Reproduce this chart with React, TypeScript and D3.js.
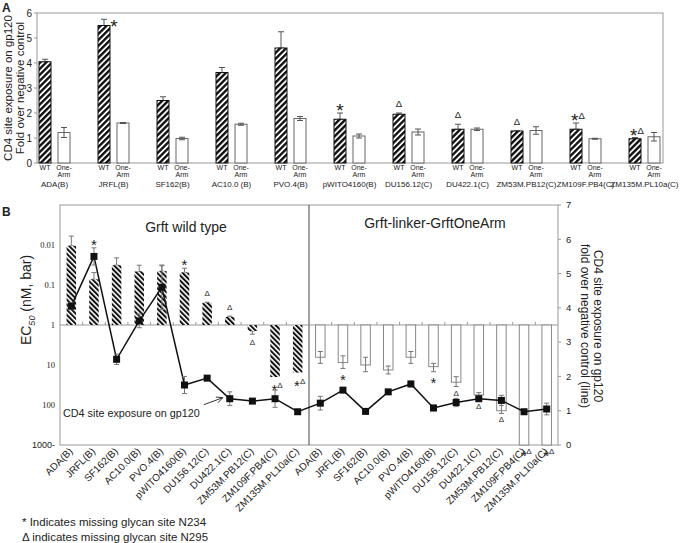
import * as d3 from 'd3';

const strains = [
  'ADA(B)', 'JRFL(B)', 'SF162(B)', 'AC10.0(B)', 'PVO.4(B)', 'pWITO4160(B)',
  'DU156.12(C)', 'DU422.1(C)', 'ZM53M.PB12(C)', 'ZM109F.PB4(C)', 'ZM135M.PL10a(C)',
];
const strainLabelsA = [
  'ADA(B)', 'JRFL(B)', 'SF162(B)', 'AC10.0 (B)', 'PVO.4(B)', 'pWITO4160(B)',
  'DU156.12(C)', 'DU422.1(C)', 'ZM53M.PB12(C)', 'ZM109F.PB4(C)', 'ZM135M.PL10a(C)',
];
// * = missing N234, Δ = missing N295
const glycanMarks = ['', '*', '', '', '', '*', 'Δ', 'Δ', 'Δ', '*Δ', '*Δ'];

// CD4 site exposure, fold over negative control
const wtExposure = [4.05, 5.5, 2.5, 3.62, 4.6, 1.75, 1.95, 1.35, 1.28, 1.35, 0.97];
const wtExposureErr = [0.1, 0.25, 0.15, 0.2, 0.65, 0.25, 0.05, 0.2, 0, 0.25, 0.05];
const oaExposure = [1.22, 1.6, 0.98, 1.55, 1.78, 1.08, 1.24, 1.35, 1.3, 0.97, 1.05];
const oaExposureErr = [0.2, 0.02, 0.05, 0.04, 0.08, 0.08, 0.12, 0.05, 0.15, 0.02, 0.17];

// EC50 (nM)
const wtEC50 = [0.0105, 0.072, 0.032, 0.046, 0.045, 0.049, 0.28, 0.63, 1.41, 20, 15.5];
const wtEC50Tip = [0.006, 0.049, 0.021, 0.032, 0.033, 0.038, 0.27, 0.6, 1.7, 20, 15.5];
const oaEC50 = [6.4, 8.7, 10, 13.3, 6.4, 11, 27, 56, 139, 1000, 1000];
const oaEC50Lo = [4.6, 5.9, 6.4, 10.6, 4.6, 9.1, 19.6, 49, 68, 1000, 1000];
const oaEC50Hi = [9.1, 12.2, 14.7, 16.8, 9.1, 14.7, 34.5, 62, 163, 1000, 1000];

const ticksA = [0, 1, 2, 3, 4, 5, 6];
const ticksRight = [0, 1, 2, 3, 4, 5, 6, 7];
const ticksEC = [0.01, 0.1, 1, 10, 100, 1000];
const ticksECLabels = ['0.01', '0.1', '1', '10', '100', '1000-'];

const SANS = "'Liberation Sans', Arial, Helvetica, sans-serif";
const SERIF = "'Liberation Serif', 'Times New Roman', serif";
const INK = '#222';
const AXIS = '#999';

function Mark({ text, x, y, star, delta }: { text: string; x: number; y: number; star: number; delta: number }) {
  let prev = 0;
  return (
    <text x={x} y={y} textAnchor="middle" dominantBaseline="central" fontFamily={SANS} fill={INK}>
      {text.split('').map((c, i) => {
        const off = c === '*' ? star * 0.28 : 0;
        const dy = off - prev;
        prev = off;
        return (
          <tspan key={i} fontSize={c === '*' ? star : delta} dy={dy}>
            {c}
          </tspan>
        );
      })}
    </text>
  );
}

function ErrBar({ x, y1, y2, cap, color }: { x: number; y1: number; y2: number; cap: number; color: string }) {
  return (
    <g stroke={color} strokeWidth={1}>
      <line x1={x} x2={x} y1={y1} y2={y2} />
      <line x1={x - cap / 2} x2={x + cap / 2} y1={y1} y2={y1} />
      <line x1={x - cap / 2} x2={x + cap / 2} y1={y2} y2={y2} />
    </g>
  );
}

function PanelA() {
  const left = 37, right = 663, top = 13, bottom = 163;
  const y = d3.scaleLinear().domain([0, 6]).range([bottom, top]);
  const x = d3.scalePoint<string>().domain(strains).range([54.5, 644.5]);
  const off = 9.5, bw = 12;
  return (
    <g>
      <text x={2} y={12} fontFamily={SANS} fontWeight="bold" fontSize={12} fill={INK}>A</text>
      <rect x={left} y={top} width={right - left} height={bottom - top} fill="none" stroke={AXIS} />
      {ticksA.map((t) => (
        <g key={t}>
          <line x1={left - 3} x2={left} y1={y(t)} y2={y(t)} stroke={AXIS} />
          <text x={left - 5} y={y(t)} dy="0.35em" textAnchor="end" fontFamily={SANS} fontSize={10} fill={INK}>{t}</text>
        </g>
      ))}
      <g transform="translate(16,88) rotate(-90)" fontFamily={SANS} fontSize={11.5} fill={INK} textAnchor="middle">
        <text x={0} y={-4}>CD4 site exposure on gp120</text>
        <text x={0} y={8}>Fold over negative control</text>
      </g>
      {strains.map((s, i) => {
        const cx = x(s)!;
        const xw = cx - off, xo = cx + off;
        const tipW = y(wtExposure[i] + wtExposureErr[i]);
        const m = glycanMarks[i];
        const markHigh = tipW - 9 < top + 6;
        return (
          <g key={s}>
            <ErrBar x={xw} y1={tipW} y2={y(wtExposure[i])} cap={6} color="#555" />
            <rect x={xw - bw / 2} y={y(wtExposure[i])} width={bw} height={bottom - y(wtExposure[i])} fill="url(#hatchA)" stroke="#111" strokeWidth={1} />
            <rect x={xo - bw / 2} y={y(oaExposure[i])} width={bw} height={bottom - y(oaExposure[i])} fill="#fff" stroke="#666" strokeWidth={1} />
            <ErrBar x={xo} y1={y(oaExposure[i] + oaExposureErr[i])} y2={y(oaExposure[i] - oaExposureErr[i])} cap={6} color="#555" />
            {m && (markHigh ? (
              <Mark text={m} x={xw + 10} y={tipW + 1} star={19} delta={9.5} />
            ) : (
              <Mark text={m} x={xw + (m.length > 1 ? 2 : 0)} y={tipW - (m === 'Δ' ? 10 : 8)} star={19} delta={9.5} />
            ))}
            <text x={xw} y={170} fontFamily={SANS} fontSize={7} textAnchor="middle" fill={INK}>WT</text>
            <text x={xo} y={170} fontFamily={SANS} fontSize={7} textAnchor="middle" fill={INK}>One-</text>
            <text x={xo} y={177} fontFamily={SANS} fontSize={7} textAnchor="middle" fill={INK}>Arm</text>
            <text x={cx} y={187} fontFamily={SANS} fontSize={8} textAnchor="middle" fill={INK}>{strainLabelsA[i]}</text>
          </g>
        );
      })}
    </g>
  );
}

function PanelB() {
  const left = 60, right = 558, top = 205, bottom = 445;
  const keys = [...strains.map((s) => 'wt:' + s), ...strains.map((s) => 'oa:' + s)];
  const x = d3.scaleBand<string>().domain(keys).range([left, right]);
  const yL = d3.scaleLog().domain([0.001, 1000]).range([top, bottom]);
  const yR = d3.scaleLinear().domain([0, 7]).range([bottom, top]);
  const base = yL(1);
  const bw = 9.5;
  const divider = x('oa:' + strains[0])!;

  const exposure = [...wtExposure, ...oaExposure];
  const exposureErr = [...wtExposureErr, ...oaExposureErr];
  const cx = (k: string) => x(k)! + x.bandwidth() / 2;
  const line = d3.line<number>().x((_, i) => cx(keys[i])).y((d) => yR(d));

  const wi = strains.indexOf('DU422.1(C)');
  const ax = cx(keys[wi]) - 7, ay = yR(wtExposure[wi]) - 1;
  const sx = ax - 19, sy = ay + 7;
  const ang = Math.atan2(ay - sy, ax - sx);
  const head = (a: number) => `${ax - 7 * Math.cos(ang + a)},${ay - 7 * Math.sin(ang + a)}`;

  return (
    <g>
      <text x={2} y={216} fontFamily={SANS} fontWeight="bold" fontSize={12} fill={INK}>B</text>
      <rect x={left} y={top} width={right - left} height={bottom - top} fill="none" stroke={AXIS} />
      <line x1={divider} x2={divider} y1={top} y2={bottom} stroke="#444" />
      <line x1={left} x2={right} y1={base} y2={base} stroke={AXIS} />
      {x.domain().slice(1).map((k) => (
        <line key={k} x1={x(k)} x2={x(k)} y1={base} y2={base - 3} stroke={AXIS} />
      ))}
      {ticksEC.map((t, i) => (
        <text key={t} x={55} y={yL(t)} dy="0.35em" textAnchor="end" fontFamily={i === 5 ? SANS : SERIF} fontSize={i === 5 ? 9 : 8.5} fill={INK}>{ticksECLabels[i]}</text>
      ))}
      {ticksRight.map((t) => (
        <g key={t}>
          <line x1={right} x2={right + 3} y1={yR(t)} y2={yR(t)} stroke={AXIS} />
          <text x={566} y={yR(t)} dy="0.35em" fontFamily={SANS} fontSize={9.5} fill={INK}>{t}</text>
        </g>
      ))}
      <text transform="translate(31,300) rotate(-90)" textAnchor="middle" fontFamily={SANS} fontSize={14} fill={INK}>
        EC<tspan fontSize={9} fontStyle="italic" dy={4}>50</tspan><tspan dy={-4}> (nM, bar)</tspan>
      </text>
      <g transform="translate(590,326) rotate(90)" fontFamily={SANS} fontSize={12} fill={INK} textAnchor="middle">
        <text x={0} y={-4}>CD4 site exposure on gp120</text>
        <text x={0} y={9}>fold over negative control (line)</text>
      </g>
      <text x={186} y={232} textAnchor="middle" fontFamily={SANS} fontSize={14} fill={INK}>Grft wild type</text>
      <text x={435} y={228} textAnchor="middle" fontFamily={SANS} fontSize={14} fill={INK}>Grft-linker-GrftOneArm</text>

      {strains.map((s, i) => {
        const xc = cx('wt:' + s);
        const yv = yL(wtEC50[i]);
        const yt = yL(wtEC50Tip[i]);
        const up = wtEC50[i] < 1;
        const m = glycanMarks[i];
        const lineTop = yR(wtExposure[i] + wtExposureErr[i]);
        const markY = up ? Math.min(yt, lineTop) - (m === 'Δ' ? 9 : 8) : yt + 8;
        return (
          <g key={'wt' + s}>
            {yt !== yv && <ErrBar x={xc} y1={yt} y2={yv} cap={5} color="#777" />}
            <rect x={xc - bw / 2} y={Math.min(yv, base)} width={bw} height={Math.abs(base - yv)} fill="url(#hatchB)" />
            {m && <Mark text={m} x={xc + (m.length > 1 ? 2 : 0)} y={markY} star={15} delta={8} />}
          </g>
        );
      })}
      {strains.map((s, i) => {
        const xc = cx('oa:' + s);
        const yv = yL(oaEC50[i]);
        const m = glycanMarks[i];
        const hi = yL(oaEC50Hi[i]);
        const lineBot = yR(oaExposure[i] - oaExposureErr[i]);
        const ref = lineBot > hi && lineBot - hi < 8 ? lineBot : hi;
        return (
          <g key={'oa' + s}>
            <rect x={xc - bw / 2} y={base} width={bw} height={yv - base} fill="#fff" stroke="#888" strokeWidth={1} />
            {oaEC50Lo[i] !== oaEC50Hi[i] && <ErrBar x={xc} y1={yL(oaEC50Lo[i])} y2={hi} cap={5} color="#777" />}
            {m && <Mark text={m} x={xc + (m.length > 1 ? 2 : 0)} y={ref + 6} star={15} delta={8} />}
          </g>
        );
      })}

      <path d={line(exposure) ?? ''} fill="none" stroke="#111" strokeWidth={1.5} />
      {exposure.map((v, i) => (
        <g key={keys[i]}>
          {exposureErr[i] > 0.03 && (
            <ErrBar x={cx(keys[i])} y1={yR(v + exposureErr[i])} y2={yR(v - exposureErr[i])} cap={5} color="#777" />
          )}
          <rect x={cx(keys[i]) - 3.5} y={yR(v) - 3.5} width={7} height={7} fill="#111" />
        </g>
      ))}

      <text x={63} y={417} fontFamily={SANS} fontSize={10.8} fill={INK}>CD4 site exposure on gp120</text>
      <g stroke="#333" strokeWidth={1} fill="none">
        <line x1={sx} y1={sy} x2={ax} y2={ay} />
        <polyline points={`${head(0.45)} ${ax},${ay} ${head(-0.45)}`} />
      </g>

      {keys.map((k, i) => (
        <text key={k} transform={`translate(${cx(k) + 2},${452}) rotate(-45)`} textAnchor="end" fontFamily={SANS} fontSize={10} fill={INK}>
          {strains[i % strains.length]}
        </text>
      ))}
    </g>
  );
}

export default function App() {
  return (
    <svg width={691} height={543} style={{ position: 'absolute', left: 0, top: 0, background: '#fff' }}>
      <defs>
        <pattern id="hatchA" patternUnits="userSpaceOnUse" width={4.2} height={4.2} patternTransform="rotate(45)">
          <rect width={4.2} height={4.2} fill="#fff" />
          <rect width={2.4} height={4.2} fill="#111" />
        </pattern>
        <pattern id="hatchB" patternUnits="userSpaceOnUse" width={3.6} height={3.6} patternTransform="rotate(-45)">
          <rect width={3.6} height={3.6} fill="#fff" />
          <rect width={2} height={3.6} fill="#111" />
        </pattern>
      </defs>
      <rect width={691} height={543} fill="#fff" />
      <PanelA />
      <PanelB />
      <g fontFamily={SANS} fontSize={11.5} fill={INK}>
        <text x={22} y={526}>* Indicates missing glycan site N234</text>
        <text x={22} y={541}>Δ indicates missing glycan site N295</text>
      </g>
    </svg>
  );
}
